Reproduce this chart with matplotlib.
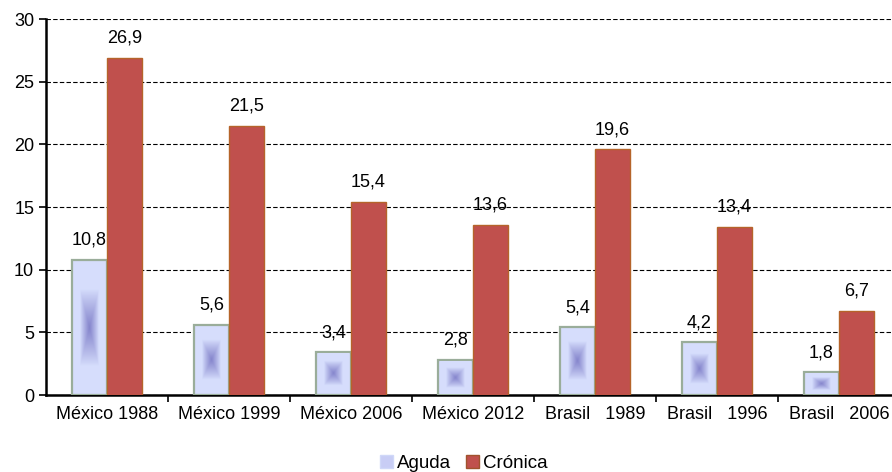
import numpy as np
import matplotlib.pyplot as plt
from matplotlib.patches import Patch

plt.rcParams['font.family'] = ['Liberation Sans', 'DejaVu Sans']

categories = ['México 1988', 'México 1999', 'México 2006', 'México 2012',
              'Brasil   1989', 'Brasil   1996', 'Brasil   2006']
aguda = [10.8, 5.6, 3.4, 2.8, 5.4, 4.2, 1.8]
cronica = [26.9, 21.5, 15.4, 13.6, 19.6, 13.4, 6.7]

fig = plt.figure(figsize=(8.92, 4.72), dpi=100)
ax = fig.add_axes([46 / 892, 1 - 395 / 472, 854 / 892, 376 / 472])

x = np.arange(len(categories))
w = 0.287

# rectangular "from centre" gradient for the Aguda bars
gy, gx = np.mgrid[-1:1:120j, -1:1:60j]
shade = np.clip(1 - np.maximum(np.abs(gx) / 0.62, np.abs(gy) / 0.62), 0, 1) ** 0.9
light = np.array([0.84, 0.87, 0.99])
dark = np.array([0.52, 0.52, 0.80])
img = light + shade[..., None] * (dark - light)

bars_a = ax.bar(x - w / 2, aguda, w, color='#d6ddfb', edgecolor='#9aad9a', linewidth=1.6, zorder=3)
for b in bars_a:
    x0 = b.get_x()
    h = b.get_height()
    ax.imshow(img, extent=[x0 + 0.02, x0 + b.get_width() - 0.02, 0.04 * h, 0.96 * h],
              aspect='auto', zorder=3.5, interpolation='bilinear')
bars_c = ax.bar(x + w / 2, cronica, w, color='#c0504d', edgecolor='#b5642a', linewidth=1, zorder=3)

for xi, v in zip(x - w / 2, aguda):
    ax.text(xi, v + 0.9, f'{v:.1f}'.replace('.', ','), ha='center', va='bottom', fontsize=13)
for xi, v in zip(x + w / 2, cronica):
    ax.text(xi, v + 0.9, f'{v:.1f}'.replace('.', ','), ha='center', va='bottom', fontsize=13)

ax.set_xlim(-0.5, len(categories) - 0.5)
ax.set_ylim(0, 30)
ax.set_yticks(range(0, 31, 5))
ax.yaxis.grid(True, linestyle=(0, (4, 2)), color='black', linewidth=0.8, zorder=0)
ax.set_axisbelow(True)
ax.set_xticks(x)
ax.set_xticklabels(categories, fontsize=13)
ax.tick_params(axis='x', length=0, pad=8)
ax.set_xticks(np.arange(0.5, len(categories) - 0.5), minor=True)
ax.tick_params(axis='x', which='minor', length=5, width=1.2, direction='out')
ax.tick_params(axis='y', length=5, width=1.2, labelsize=13)
for s in ['top', 'right']:
    ax.spines[s].set_visible(False)
ax.spines['left'].set_linewidth(1.8)
ax.spines['bottom'].set_linewidth(1.8)

handles = [Patch(facecolor='#c8cdf5', edgecolor='#d0d8f8', label='Aguda'),
           Patch(facecolor='#c0504d', edgecolor='#a0522d', label='Crónica')]
fig.legend(handles=handles, loc='lower center', bbox_to_anchor=(0.52, -0.035), ncol=2, frameon=False,
           fontsize=13.5, handlelength=0.7, handleheight=0.7, handletextpad=0.2, columnspacing=0.8)

fig.savefig('out.png', dpi=100)
